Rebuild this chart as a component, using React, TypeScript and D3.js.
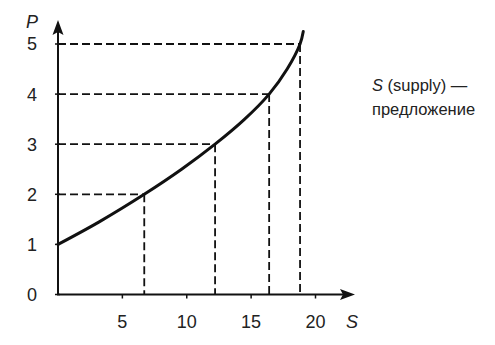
import React from "react";
import * as d3 from "d3";

const xTicks = [5, 10, 15, 20];
const yTicks = [0, 1, 2, 3, 4, 5];
const curveS = [0, 3.2, 6.7, 9.6, 12.2, 14.5, 16.4, 17.8, 18.8, 19.05];
const curveP = [1, 1.45, 2, 2.5, 3, 3.5, 4, 4.5, 5, 5.25];
const guideP = [2, 3, 4, 5];
const guideS = [6.7, 12.2, 16.4, 18.8];

const W = 495;
const H = 345;
const FONT = "'Liberation Sans', Arial, sans-serif";

export default function App() {
  const x = d3.scaleLinear().domain([0, 20]).range([58, 315.5]);
  const y = d3.scaleLinear().domain([0, 5]).range([294.5, 44]);
  const x0 = x(0);
  const y0 = y(0);
  const xEnd = 355;
  const yEnd = 20;

  const line = d3
    .line<number>()
    .x((d, i) => x(curveS[i]))
    .y((d) => y(d))
    .curve(d3.curveCatmullRom.alpha(0.5));
  const path = line(curveP) || "";

  return (
    <svg
      width={W}
      height={H}
      style={{ position: "absolute", left: 0, top: 0, background: "#fff" }}
      fontFamily={FONT}
    >
      <rect x={0} y={0} width={W} height={H} fill="#fff" />
      {guideP.map((p, i) => (
        <g key={p} stroke="#111" strokeWidth={1.8} strokeDasharray="8,4" fill="none">
          <line x1={x0} y1={y(p)} x2={x(guideS[i])} y2={y(p)} />
          <line x1={x(guideS[i])} y1={y(p)} x2={x(guideS[i])} y2={y0} />
        </g>
      ))}
      <line x1={x0} y1={y0} x2={x0} y2={yEnd + 12} stroke="#111" strokeWidth={2} />
      <line x1={x0 - 1} y1={y0} x2={xEnd - 12} y2={y0} stroke="#111" strokeWidth={2} />
      <path
        d={`M${x0},${yEnd} L${x0 - 5.5},${yEnd + 15} L${x0},${yEnd + 12} L${x0 + 5.5},${yEnd + 15} Z`}
        fill="#111"
      />
      <path
        d={`M${xEnd},${y0} L${xEnd - 15},${y0 - 5.5} L${xEnd - 12},${y0} L${xEnd - 15},${y0 + 5.5} Z`}
        fill="#111"
      />
      {yTicks.map((t) => (
        <g key={t}>
          <line x1={x0 - 3} x2={x0 + 2} y1={y(t)} y2={y(t)} stroke="#111" strokeWidth={1.5} />
          <text x={32} y={y(t)} dy="0.36em" textAnchor="middle" fontSize={18} fill="#222">
            {t}
          </text>
        </g>
      ))}
      {xTicks.map((t) => (
        <g key={t}>
          <line x1={x(t)} x2={x(t)} y1={y0} y2={y0 + 4} stroke="#111" strokeWidth={1.5} />
          <text x={x(t)} y={322} dy="0.36em" textAnchor="middle" fontSize={18} fill="#222">
            {t}
          </text>
        </g>
      ))}
      <text x={32} y={22} dy="0.36em" textAnchor="middle" fontSize={18} fontStyle="italic" fill="#222">
        P
      </text>
      <text x={352} y={322} dy="0.36em" textAnchor="middle" fontSize={18} fontStyle="italic" fill="#222">
        S
      </text>
      <path d={path} fill="none" stroke="#111" strokeWidth={3} strokeLinecap="round" />
      <text x={372} y={85} dy="0.36em" fontSize={16.5} fill="#222">
        <tspan fontStyle="italic">S</tspan>
        <tspan> (supply) —</tspan>
      </text>
      <text x={372} y={109} dy="0.36em" fontSize={16.5} fill="#222">
        предложение
      </text>
    </svg>
  );
}
